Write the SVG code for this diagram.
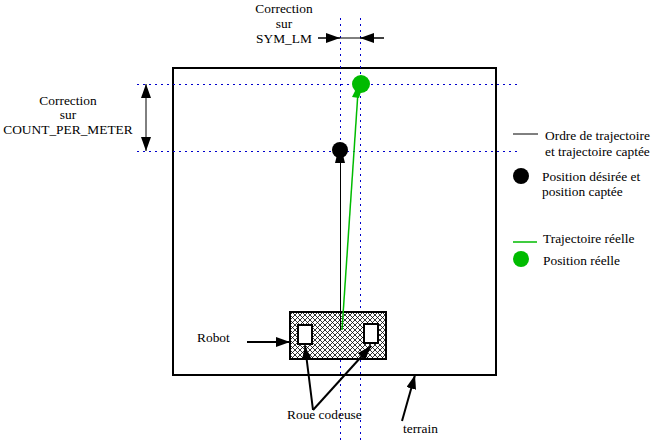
<svg xmlns="http://www.w3.org/2000/svg" width="669" height="442" viewBox="0 0 669 442">
<defs>
<style>
text{font-family:"Liberation Serif","Times New Roman","DejaVu Serif",serif;font-size:13.4px;fill:#000}
.dot{stroke:#0000cc;stroke-width:1;stroke-dasharray:2,4;fill:none;shape-rendering:crispEdges}
.blk{stroke:#000;fill:none}
.thick{stroke:#000;stroke-width:2;fill:none}
</style>
<marker id="ahl" viewBox="0 0 14 10" refX="14" refY="5" markerWidth="14" markerHeight="10" markerUnits="userSpaceOnUse" orient="auto"><path d="M0,0 L14,5 L0,10 Z" fill="#000"/></marker>
<pattern id="hatch" width="5" height="5" patternUnits="userSpaceOnUse"><rect width="5" height="5" fill="#fff"/><path d="M0,0 L5,5 M5,0 L0,5" stroke="#000" stroke-width="0.8"/></pattern>
</defs>
<g id="terrain">
<rect x="173" y="68" width="323" height="307" class="thick"/>
</g>
<g id="guides">
<line x1="340.5" y1="18" x2="340.5" y2="442" class="dot"/>
<line x1="360.5" y1="18" x2="360.5" y2="442" class="dot"/>
<line x1="137" y1="84.5" x2="518" y2="84.5" class="dot"/>
<line x1="137" y1="151.5" x2="518" y2="151.5" class="dot"/>
</g>
<g id="robot">
<rect x="290" y="312" width="96" height="47" fill="url(#hatch)" stroke="#000" stroke-width="2"/>
<rect x="298" y="325" width="14" height="19" fill="#fff" stroke="#000" stroke-width="2"/>
<rect x="364" y="324" width="14" height="19" fill="#fff" stroke="#000" stroke-width="2"/>
</g>
<g id="connectors">
<line x1="340.5" y1="155" x2="340.5" y2="330" stroke="#000" stroke-width="1"/>
<line x1="342" y1="330" x2="358" y2="92" stroke="#00bb00" stroke-width="1.5"/>
<line x1="318" y1="38" x2="384" y2="38" class="blk"/>
<line x1="318" y1="38" x2="340" y2="38" class="blk" marker-end="url(#ahl)"/>
<line x1="384" y1="38" x2="360" y2="38" class="blk" marker-end="url(#ahl)"/>
<line x1="146" y1="118" x2="146" y2="84" class="blk" marker-end="url(#ahl)"/>
<line x1="146" y1="118" x2="146" y2="151" class="blk" marker-end="url(#ahl)"/>
<line x1="247" y1="342" x2="290" y2="342" stroke="#000" stroke-width="2" marker-end="url(#ahl)"/>
<line x1="313" y1="410" x2="305" y2="346" stroke="#000" stroke-width="2" marker-end="url(#ahl)"/>
<line x1="313" y1="410" x2="371" y2="346" stroke="#000" stroke-width="2" marker-end="url(#ahl)"/>
<line x1="402" y1="421" x2="415" y2="375" stroke="#000" stroke-width="2" marker-end="url(#ahl)"/>
</g>
<g id="points">
<circle cx="340" cy="150" r="8" fill="#000"/>
<path d="M337,155 L343,155 L345,163 L335,163 Z" fill="#000"/>
<circle cx="361" cy="84" r="9" fill="#00bb00"/>
<path d="M356,89 L362,89 L359,98 L352,97 Z" fill="#00bb00"/>
</g>
<g id="labels">
<text x="284" y="13" text-anchor="middle">Correction</text>
<text x="284" y="28" text-anchor="middle">sur</text>
<text x="284" y="43" text-anchor="middle">SYM_LM</text>
<text x="68" y="105" text-anchor="middle">Correction</text>
<text x="68" y="119" text-anchor="middle">sur</text>
<text x="68" y="134" text-anchor="middle">COUNT_PER_METER</text>
<text x="197" y="342">Robot</text>
<text x="287" y="419">Roue codeuse</text>
<text x="403" y="433">terrain</text>
</g>
<g id="legend">
<line x1="513" y1="134" x2="538" y2="134" stroke="#000" stroke-width="1"/>
<text x="545" y="140">Ordre de trajectoire</text>
<text x="545" y="156">et trajectoire captée</text>
<circle cx="521" cy="176" r="8" fill="#000"/>
<text x="542" y="181">Position désirée et</text>
<text x="542" y="196">position captée</text>
<line x1="513" y1="242" x2="537" y2="242" stroke="#00bb00" stroke-width="1.5"/>
<text x="543" y="243">Trajectoire réelle</text>
<circle cx="521" cy="259" r="8" fill="#00bb00"/>
<text x="543" y="265">Position réelle</text>
</g>
</svg>
